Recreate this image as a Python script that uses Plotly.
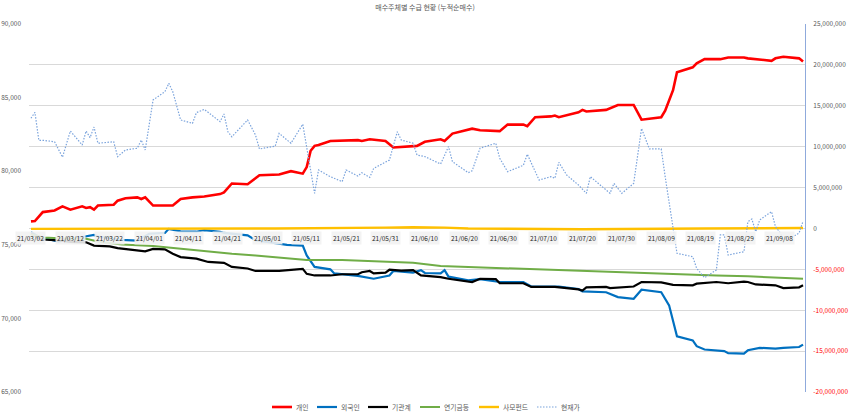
import plotly.graph_objects as go

FONT = "Noto Sans CJK KR, Noto Sans, sans-serif"

title_text = "매수주체별 수급 현황 (누적순매수)"

# ---- 개인 (cumulative net buy, millions on right axis) ----
ind_dates = ["03-02","03-03","03-05","03-08","03-10","03-12","03-15","03-16","03-17","03-18",
             "03-19","03-23","03-24","03-26","03-29","03-30","03-31","04-02","04-07","04-09",
             "04-12","04-15","04-19","04-20","04-22","04-26","04-29","05-04","05-07","05-10",
             "05-11","05-12","05-13","05-14","05-17","05-24","05-25","05-27","05-31","06-02",
             "06-08","06-10","06-14","06-15","06-17","06-22","06-24","06-29","07-01","07-05",
             "07-06","07-08","07-12","07-13","07-14","07-19","07-20","07-21","07-26","07-29",
             "08-02","08-04","08-09","08-10","08-12","08-13","08-17","08-18","08-20","08-24",
             "08-26","08-30","08-31","09-06","09-07","09-09","09-13","09-14"]
ind_vals = [0.86,0.9,2.0,2.2,2.7,2.3,2.7,2.5,2.6,2.3,
            2.8,2.9,3.4,3.7,3.8,3.6,3.8,2.8,2.8,3.6,
            3.8,3.9,4.2,4.4,5.5,5.4,6.5,6.6,7.0,6.7,
            7.5,9.5,10.1,10.2,10.7,10.8,10.7,10.9,10.7,9.9,
            10.1,10.6,10.9,10.7,11.6,12.2,12.0,11.9,12.7,12.7,
            12.5,13.6,13.7,13.8,13.6,14.2,14.5,14.3,14.5,15.1,
            15.1,13.3,13.6,14.4,16.9,19.1,19.7,20.2,20.7,20.7,
            20.9,20.9,20.8,20.5,20.8,21.0,20.8,20.4]

# ---- 외국인 ----
for_dates = ["03-02","03-04","03-09","03-10","03-15","03-18","03-19","03-25","03-29","04-01",
             "04-05","04-06","04-09","04-13","04-15","04-19","04-20","04-23","04-26","04-28",
             "05-04","05-06","05-10","05-11","05-13","05-17","05-18","05-24","05-28","06-01",
             "06-02","06-07","06-09","06-10","06-14","06-15","06-16","06-21","06-24","06-29",
             "07-05","07-07","07-14","07-19","07-20","07-26","07-29","08-02","08-04","08-09",
             "08-11","08-13","08-17","08-18","08-20","08-25","08-26","08-30","08-31","09-03",
             "09-07","09-09","09-13","09-14"]
for_vals = [-0.45,-1.0,-1.6,-1.5,-1.05,-0.8,-1.0,-1.4,-1.5,-0.65,
            -0.55,-0.05,-0.35,-0.4,-0.2,-0.4,-0.55,-0.7,-0.85,-1.45,
            -1.9,-2.0,-2.1,-3.3,-4.7,-5.0,-5.5,-5.8,-6.15,-5.75,
            -5.2,-5.4,-5.1,-5.45,-5.5,-5.1,-5.9,-6.35,-6.2,-6.55,
            -6.55,-7.1,-7.1,-7.4,-7.7,-7.8,-8.4,-8.6,-7.5,-7.8,
            -9.4,-13.2,-13.7,-14.4,-14.8,-15.0,-15.25,-15.3,-14.9,-14.6,
            -14.7,-14.6,-14.5,-14.2]

# ---- 기관계 ----
ins_dates = ["03-02","03-03","03-04","03-05","03-09","03-12","03-16","03-18","03-22","03-24",
             "03-29","03-31","04-02","04-05","04-07","04-09","04-13","04-16","04-20","04-22",
             "04-26","04-28","05-04","05-07","05-10","05-11","05-13","05-17","05-20","05-24",
             "05-25","05-27","05-28","05-31","06-01","06-04","06-07","06-09","06-14","06-16",
             "06-22","06-24","06-28","06-29","07-05","07-07","07-13","07-19","07-20","07-21",
             "07-26","07-27","08-02","08-04","08-09","08-12","08-17","08-18","08-23","08-26",
             "08-30","08-31","09-02","09-07","09-09","09-13","09-14"]
ins_vals = [-0.6,-0.9,-1.2,-1.35,-1.45,-1.65,-1.7,-2.1,-2.2,-2.4,
            -2.7,-2.8,-2.5,-2.55,-3.1,-3.5,-3.7,-4.1,-4.2,-4.7,
            -4.9,-5.2,-5.2,-5.1,-4.95,-5.55,-5.75,-5.75,-5.6,-5.6,
            -5.35,-5.2,-5.5,-5.4,-5.05,-5.15,-5.1,-5.75,-5.95,-6.15,
            -6.55,-6.15,-6.2,-6.7,-6.7,-7.15,-7.15,-7.45,-7.6,-7.2,
            -7.15,-7.3,-7.1,-6.55,-6.6,-6.9,-6.95,-6.75,-6.55,-6.7,
            -6.5,-6.55,-6.85,-6.95,-7.3,-7.2,-6.95]

# ---- 연기금등 ----
pen_dates = ["03-02","03-05","03-12","03-16","03-19","03-25","04-02","04-09","04-16","04-22",
             "04-28","05-06","05-11","05-20","05-27","06-04","06-07","06-14","06-23","07-01",
             "07-09","07-19","07-27","08-05","08-13","08-23","08-31","09-09","09-14"]
pen_vals = [-0.7,-1.1,-1.25,-1.25,-1.6,-1.95,-2.15,-2.5,-2.8,-3.1,
            -3.3,-3.6,-3.85,-3.85,-4.0,-4.1,-4.2,-4.6,-4.75,-4.95,
            -5.05,-5.2,-5.3,-5.45,-5.6,-5.75,-5.85,-6.05,-6.15]

# ---- 사모펀드 ----
pef_dates = ["03-02","04-01","05-03","05-31","06-07","06-15","06-21","07-20","07-30","08-20","09-14"]
pef_vals = [-0.05,-0.05,0.0,0.1,0.15,0.1,0.0,-0.1,-0.05,0.0,0.05]

# ---- 현재가 (left axis) ----
px_dates = ["03-02","03-03","03-04","03-05","03-08","03-10","03-12","03-15","03-16","03-17",
            "03-18","03-19","03-23","03-24","03-26","03-29","03-30","03-31","04-02","04-05",
            "04-06","04-07","04-09","04-12","04-13","04-15","04-19","04-20","04-21","04-22",
            "04-26","04-28","04-29","05-03","05-04","05-07","05-10","05-13","05-14","05-17",
            "05-20","05-21","05-24","05-25","05-27","05-28","06-01","06-03","06-04","06-07",
            "06-08","06-10","06-14","06-16","06-17","06-21","06-22","06-24","06-28","06-29",
            "07-01","07-05","07-06","07-09","07-12","07-13","07-14","07-16","07-19","07-21",
            "07-22","07-27","07-28","07-30","08-02","08-04","08-06","08-09","08-10","08-11",
            "08-12","08-13","08-17","08-18","08-20","08-23","08-24","08-25","08-26","08-30",
            "08-31","09-01","09-02","09-03","09-06","09-07","09-08","09-09","09-10","09-13",
            "09-14"]
px_vals = [83600,84000,82100,82100,82000,80950,82730,81780,82730,82280,
           83000,81900,82000,80990,81440,81560,82120,81440,84840,85400,
           85970,85400,83480,83250,83980,84200,83370,83890,82680,82340,
           83480,82460,81510,81700,82570,81900,83190,78500,80080,79630,
           79290,80080,79670,79900,79580,80190,80760,82680,82120,81900,
           81100,80990,80490,81670,80650,79900,80030,81560,81900,80880,
           79970,80400,81150,79400,79630,79520,80600,79740,79060,78500,
           79630,78500,79170,78500,79170,82900,81510,81510,79630,77840,
           76000,74420,74190,73400,72770,73290,75670,75670,74310,74530,
           76570,76750,75890,76690,77250,76230,75890,75400,75300,75800,
           76600]

# ---- axis ticks ----
x_tick_dates = ["03-02","03-12","03-22","04-01","04-11","04-21","05-01","05-11","05-21","05-31",
                "06-10","06-20","06-30","07-10","07-20","07-30","08-09","08-19","08-29","09-08"]
x_tick_labels = ["21/03/02","21/03/12","21/03/22","21/04/01","21/04/11","21/04/21","21/05/01",
                 "21/05/11","21/05/21","21/05/31","21/06/10","21/06/20","21/06/30","21/07/10",
                 "21/07/20","21/07/30","21/08/09","21/08/19","21/08/29","21/09/08"]
right_ticks = [25e6, 20e6, 15e6, 10e6, 5e6, 0, -5e6, -10e6, -15e6, -20e6]
left_ticks = [90000, 85000, 80000, 75000, 70000, 65000]

# ---- layout constants (pixels) ----
W, H = 850, 415
ML, MR, MT, MB = 29, 45, 24, 23
PW, PH = W - ML - MR, H - MT - MB
AX_FONT = dict(family=FONT, size=6.5, color="#595959")


def full(ds):
    return ["2021-" + s for s in ds]


def right_label(v):
    s = f"{int(v):,}"
    if v < 0:
        return f'<span style="color:#ff0000">{s}</span>'
    return s


series = [
    ("개인", ind_dates, ind_vals, "#ff0000", 2.6),
    ("외국인", for_dates, for_vals, "#0070c0", 2.2),
    ("기관계", ins_dates, ins_vals, "#000000", 2.2),
    ("연기금등", pen_dates, pen_vals, "#70ad47", 2.0),
    ("사모펀드", pef_dates, pef_vals, "#ffc000", 2.4),
]
price_line = dict(color="#7aa3dc", width=1.2, dash="1.5px,1.5px")

fig = go.Figure()
for name, ds, vs, col, w in series:
    fig.add_trace(go.Scatter(x=full(ds), y=[v * 1e6 for v in vs], name=name, mode="lines",
                             line=dict(color=col, width=w), yaxis="y", showlegend=False))
fig.add_trace(go.Scatter(x=full(px_dates), y=px_vals, name="현재가", mode="lines",
                         line=price_line, yaxis="y2", showlegend=False))

annotations = []
for d, lab in zip(x_tick_dates, x_tick_labels):
    annotations.append(dict(x="2021-" + d, y=0, xref="x", yref="y", yshift=-10,
                            text=lab, showarrow=False, bgcolor="rgba(242,242,242,0.9)",
                            borderpad=1, font=dict(family=FONT, size=6.5, color="#262626")))

# ---- legend (drawn as line samples + text, positions in pixels) ----
legend_items = [
    ("개인", dict(color="#ff0000", width=2.6), 272),
    ("외국인", dict(color="#0070c0", width=2.2), 317),
    ("기관계", dict(color="#000000", width=2.2), 368),
    ("연기금등", dict(color="#70ad47", width=2.0), 420),
    ("사모펀드", dict(color="#ffc000", width=2.4), 479),
    ("현재가", price_line, 537),
]
leg_y = (H - MB - 407) / PH
shapes = []
for name, ln, px0 in legend_items:
    shapes.append(dict(type="line", xref="paper", yref="paper",
                       x0=(px0 - ML) / PW, x1=(px0 + 20 - ML) / PW, y0=leg_y, y1=leg_y,
                       line=ln))
    annotations.append(dict(x=(px0 + 22 - ML) / PW, y=leg_y, xref="paper", yref="paper",
                            xanchor="left", yanchor="middle", text=name, showarrow=False,
                            font=dict(family=FONT, size=6.8, color="#595959")))

fig.update_layout(
    width=W, height=H,
    margin=dict(l=ML, r=MR, t=MT, b=MB, autoexpand=False),
    paper_bgcolor="white", plot_bgcolor="white",
    font=dict(family=FONT, size=6.5, color="#595959"),
    title=dict(text=title_text, x=0.5, xanchor="center", y=1 - 8 / H, yanchor="middle",
               font=dict(family=FONT, size=7, color="#595959")),
    xaxis=dict(type="date", range=["2021-03-01 12:00", "2021-09-14 12:00"],
               showgrid=False, showticklabels=False, ticks="", zeroline=False,
               showline=False, anchor="y"),
    yaxis=dict(side="right", range=[-20e6, 25e6], tickvals=right_ticks,
               ticktext=[right_label(v) for v in right_ticks],
               showgrid=True, gridcolor="#d9d9d9", gridwidth=1, zeroline=False,
               showline=True, linecolor="#8faadc", linewidth=1, ticks="",
               ticklabelstandoff=6, tickfont=AX_FONT),
    yaxis2=dict(side="left", overlaying="y", range=[65000, 90000], tickvals=left_ticks,
                tickformat=",", showgrid=False, zeroline=False, showline=False, ticks="",
                ticklabelstandoff=7, tickfont=AX_FONT),
    annotations=annotations,
    shapes=shapes,
    showlegend=False,
)

fig.write_html("out.html", config={"displayModeBar": False},
               post_script="document.body.style.margin='0px';")
